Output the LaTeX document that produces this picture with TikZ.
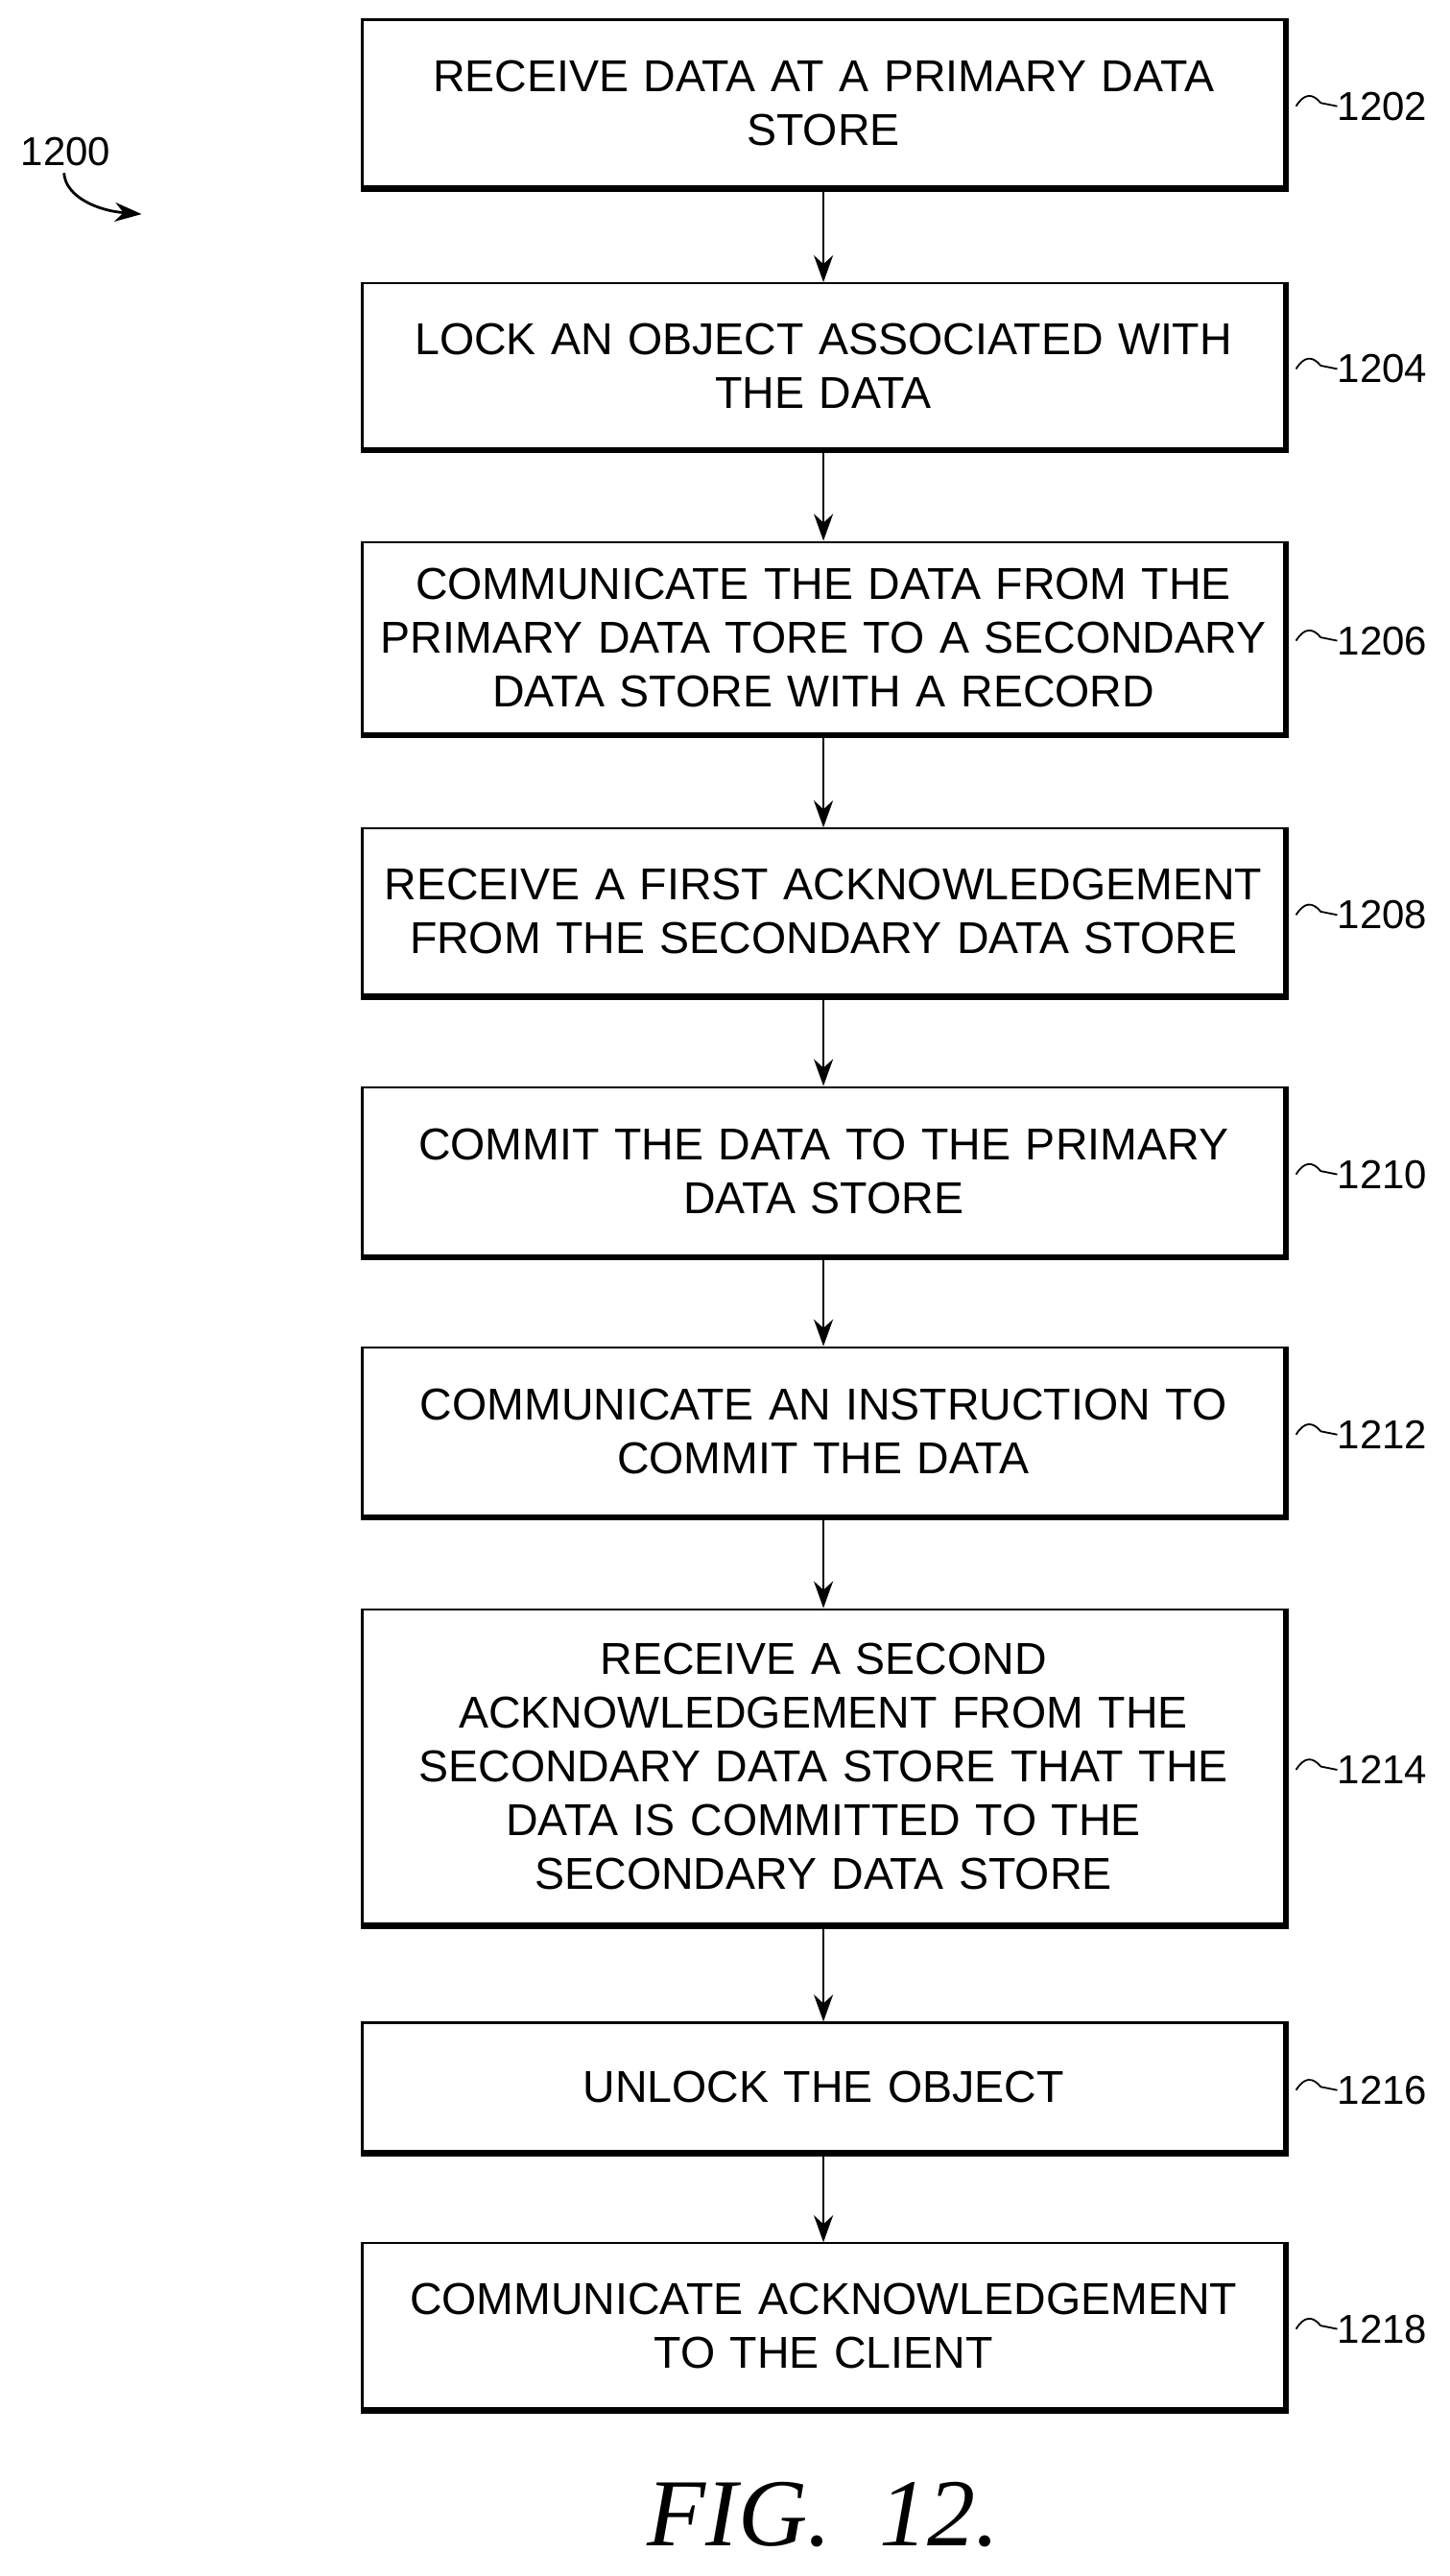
\documentclass[tikz,border=0pt]{standalone}
\usepackage{fontspec}
\setmainfont{Liberation Sans}
\newfontfamily\figfont{Liberation Serif}
\usetikzlibrary{arrows.meta}
\begin{document}
\begin{tikzpicture}[x=1.716pt,y=-1.716pt,
  box/.style={draw,line width=2.2pt,minimum width=560*1.716pt,text width=940pt,align=center,
    font=\fontsize{46.5}{56}\selectfont,inner sep=0pt,
    append after command={\pgfextra{\draw[line width=5pt] ([xshift=1pt]\tikzlastnode.north east)--([xshift=1pt,yshift=-2pt]\tikzlastnode.south east)--([yshift=-2pt]\tikzlastnode.south west);}}},
  arr/.style={-{Stealth[length=28pt,width=20pt]},line width=2.8pt},
  lbl/.style={font=\fontsize{42}{44}\selectfont,anchor=west,inner sep=0pt}]
\useasboundingbox (0,0) rectangle (880,1564);
\def\B#1#2#3#4#5{\node[box,minimum height=(#3-#2)*1.716pt] (#1) at (500,{(#2+#3)/2}) {#4};
  \node[lbl] (l#1) at (812,{(#2+#3)/2+2}) {#5};
  \draw[line width=1.8pt] (787,{(#2+#3)/2+2}) .. controls (792,{(#2+#3)/2-6}) and (797,{(#2+#3)/2-6}) .. (802,{(#2+#3)/2}) -- (l#1.west);}
\B{a}{12}{113}{RECEIVE DATA AT A PRIMARY DATA\\STORE}{1202}
\B{b}{172}{272}{LOCK AN OBJECT ASSOCIATED WITH\\THE DATA}{1204}
\B{c}{329}{445}{COMMUNICATE THE DATA FROM THE\\PRIMARY DATA TORE TO A SECONDARY\\DATA STORE WITH A RECORD}{1206}
\B{d}{503}{604}{RECEIVE A FIRST ACKNOWLEDGEMENT\\FROM THE SECONDARY DATA STORE}{1208}
\B{e}{660}{762}{COMMIT THE DATA TO THE PRIMARY\\DATA STORE}{1210}
\B{f}{818}{920}{COMMUNICATE AN INSTRUCTION TO\\COMMIT THE DATA}{1212}
\B{g}{977}{1168}{RECEIVE A SECOND\\ACKNOWLEDGEMENT FROM THE\\SECONDARY DATA STORE THAT THE\\DATA IS COMMITTED TO THE\\SECONDARY DATA STORE}{1214}
\B{h}{1228}{1306}{UNLOCK THE OBJECT}{1216}
\B{i}{1362}{1462}{COMMUNICATE ACKNOWLEDGEMENT\\TO THE CLIENT}{1218}
\foreach \u/\v in {a/b,b/c,c/d,d/e,e/f,f/g,g/h,h/i}
  \draw[arr] ([yshift=-2pt]\u.south) -- (\v.north);
\node[font=\fontsize{42}{44}\selectfont] (n) at (40,92) {1200};
\coordinate (t) at (86,130);
\draw[arr] ([xshift=-2pt,yshift=-4pt]n.south) .. controls (40,120) and (60,128) .. (t);
\node[font=\figfont\itshape\fontsize{100}{100}\selectfont] (fig) at (500,1527) {FIG.~~12.};
\end{tikzpicture}
\end{document}
